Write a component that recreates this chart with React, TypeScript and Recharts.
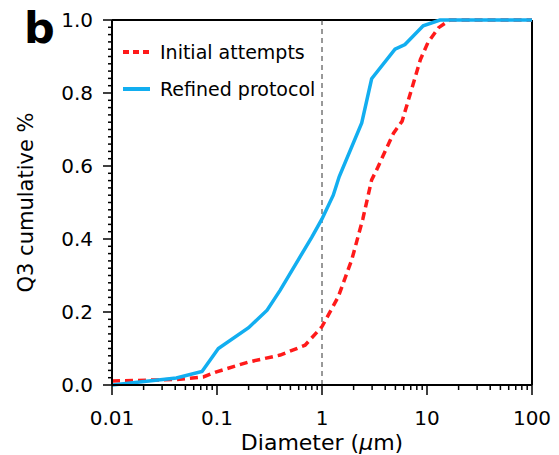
import React from 'react'
import { LineChart, Line, XAxis, YAxis, ReferenceLine, Legend } from 'recharts'

// diameters (µm) and cumulative fractions
const initialDiam = [0.01, 0.041, 0.074, 0.099, 0.2, 0.4, 0.69, 1.0, 1.43, 1.92, 2.45, 2.97, 3.32, 4.8, 5.8, 8.66, 10.2, 12.9, 16.5, 100]
const initialQ3 = [0.011, 0.015, 0.022, 0.036, 0.063, 0.082, 0.109, 0.16, 0.242, 0.343, 0.455, 0.562, 0.59, 0.69, 0.723, 0.892, 0.938, 0.979, 1.0, 1.0]

const refinedDiam = [0.01, 0.041, 0.072, 0.103, 0.2, 0.3, 0.4, 0.6, 0.8, 1.0, 1.28, 1.46, 2.39, 2.97, 4.96, 6.17, 9.2, 13.3, 100]
const refinedQ3 = [0, 0.019, 0.037, 0.1, 0.157, 0.205, 0.26, 0.345, 0.405, 0.455, 0.52, 0.571, 0.718, 0.839, 0.92, 0.933, 0.984, 1.0, 1.0]

const xMajor = [0.01, 0.1, 1, 10, 100]
const xMinorSteps = [2, 3, 4, 5, 6, 7, 8, 9]
const yMajor = [0, 0.2, 0.4, 0.6, 0.8, 1.0]

const initialData = initialDiam.map((d, i) => ({ d, q: initialQ3[i] }))
const refinedData = refinedDiam.map((d, i) => ({ d, q: refinedQ3[i] }))

const xTicks = [
  ...xMajor,
  ...xMajor.slice(0, -1).flatMap(m => xMinorSteps.map(s => +(m * s).toPrecision(3))),
].sort((a, b) => a - b)
const yTicks = Array.from({ length: 51 }, (_, i) => +(i * 0.02).toFixed(2))

const FONT = '"DejaVu Sans", sans-serif'
const RED = '#ff1a1a'
const BLUE = '#12aef0'

function XTick({ x, y, payload }: any) {
  const major = xMajor.includes(payload.value)
  return (
    <g>
      <line x1={x} y1={y} x2={x} y2={y + (major ? 10 : 5)} stroke="#000" strokeWidth={1.5} />
      {major && (
        <text x={x} y={y + 40} textAnchor="middle" fontSize={20} fontFamily={FONT} fill="#000">
          {String(payload.value)}
        </text>
      )}
    </g>
  )
}

function YTick({ x, y, payload }: any) {
  const major = yMajor.some(v => Math.abs(v - payload.value) < 1e-6)
  return (
    <g>
      <line x1={x - (major ? 9 : 4)} y1={y} x2={x} y2={y} stroke="#000" strokeWidth={1.5} />
      {major && (
        <text x={x - 19} y={y} dy="0.36em" textAnchor="end" fontSize={20} fontFamily={FONT} fill="#000">
          {payload.value.toFixed(1)}
        </text>
      )}
    </g>
  )
}

function LegendBox() {
  const rows = [
    { label: 'Initial attempts', color: RED, dash: '6 4' },
    { label: 'Refined protocol', color: BLUE, dash: undefined },
  ]
  return (
    <div style={{ fontFamily: FONT, fontSize: 19, color: '#000' }}>
      {rows.map(r => (
        <div key={r.label} style={{ display: 'flex', alignItems: 'center', height: 37 }}>
          <svg width={40} height={10}>
            <line x1={3} y1={5} x2={30} y2={5} stroke={r.color} strokeWidth={4} strokeDasharray={r.dash} />
          </svg>
          <span>{r.label}</span>
        </div>
      ))}
    </div>
  )
}

export default function App() {
  return (
    <div style={{ position: 'absolute', left: 0, top: 0, width: 559, height: 455, background: '#fff' }}>
      <div style={{ position: 'absolute', left: 24, top: 7, fontFamily: FONT, fontWeight: 'bold', fontSize: 43, lineHeight: '43px' }}>b</div>
      <LineChart width={559} height={455} margin={{ top: 20, right: 27, bottom: 0, left: 40 }}>
        <XAxis
          dataKey="d"
          type="number"
          scale="log"
          domain={[0.01, 100]}
          ticks={xTicks}
          interval={0}
          allowDataOverflow
          tickSize={0}
          tickMargin={0}
          tickLine={false}
          axisLine={{ stroke: '#000', strokeWidth: 2 }}
          tick={<XTick />}
          height={70}
          label={({ viewBox }: any) => (
            <text x={viewBox.x + viewBox.width / 2} y={viewBox.y + 65} textAnchor="middle" fontSize={22} fontFamily={FONT} fill="#000">
              Diameter (<tspan fontStyle="italic">μ</tspan>m)
            </text>
          )}
        />
        <YAxis
          type="number"
          domain={[0, 1]}
          ticks={yTicks}
          interval={0}
          tickSize={0}
          tickMargin={0}
          tickLine={false}
          axisLine={{ stroke: '#000', strokeWidth: 2 }}
          tick={<YTick />}
          width={72}
          label={({ viewBox }: any) => {
            const cx = viewBox.x - 7
            const cy = viewBox.y + viewBox.height / 2
            return (
              <text x={cx} y={cy} transform={`rotate(-90 ${cx} ${cy})`} textAnchor="middle" fontSize={21} fontFamily={FONT} fill="#000">
                Q3 cumulative %
              </text>
            )
          }}
        />
        <ReferenceLine y={1} stroke="#000" strokeWidth={2} />
        <ReferenceLine x={100} stroke="#000" strokeWidth={2} />
        <ReferenceLine x={1} stroke="#333" strokeWidth={1} strokeDasharray="5 4" />
        <Legend
          layout="vertical"
          align="center"
          verticalAlign="middle"
          wrapperStyle={{ left: 120, top: 33, width: 'auto' }}
          content={<LegendBox />}
        />
        <Line data={initialData} dataKey="q" type="linear" stroke={RED} strokeWidth={3.5} strokeDasharray="8 5" dot={false} isAnimationActive={false} />
        <Line data={refinedData} dataKey="q" type="linear" stroke={BLUE} strokeWidth={3.5} dot={false} isAnimationActive={false} />
      </LineChart>
    </div>
  )
}
